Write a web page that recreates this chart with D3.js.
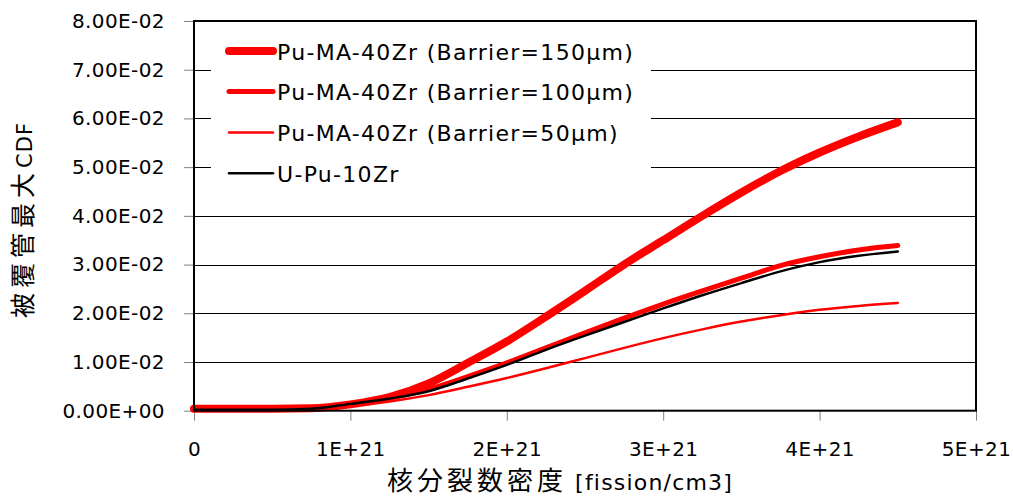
<!DOCTYPE html>
<html>
<head>
<meta charset="utf-8">
<script src="https://cdn.jsdelivr.net/npm/d3@7"></script>
<style>
  html, body { margin: 0; padding: 0; background: #fff; }
  svg { display: block; }
  text { font-family: "DejaVu Sans", "Noto Sans CJK JP", sans-serif; fill: #000; }
  .cjk { font-family: "Noto Sans CJK JP", sans-serif; }
</style>
</head>
<body>
<svg id="chart" width="1013" height="500"></svg>
<script>
// Fission density (fissions/cm3) at which the cladding CDF is sampled
const fission = [0, 0.5e21, 0.75e21, 1.0e21, 1.25e21, 1.5e21, 1.75e21, 2.0e21, 2.25e21,
                 2.5e21, 2.75e21, 3.0e21, 3.25e21, 3.5e21, 3.75e21, 4.0e21, 4.25e21, 4.5e21];

// Maximum cladding CDF for each fuel / barrier case
const cdfBarrier150 = [0.0004, 0.0004, 0.0005, 0.0013, 0.0028, 0.0056, 0.0098, 0.0142, 0.0193,
                       0.0246, 0.0300, 0.0350, 0.0400, 0.0448, 0.0492, 0.0530, 0.0563, 0.0592];
const cdfBarrier100 = [0.0004, 0.0004, 0.0005, 0.0013, 0.0026, 0.0044, 0.0070, 0.0098, 0.0129,
                       0.0160, 0.0190, 0.0219, 0.0246, 0.0272, 0.0298, 0.0316, 0.0330, 0.0339];
const cdfBarrier50  = [0.0003, 0.0002, 0.0003, 0.0010, 0.0019, 0.0032, 0.0049, 0.0067, 0.0087,
                       0.0108, 0.0129, 0.0149, 0.0167, 0.0183, 0.0196, 0.0207, 0.0215, 0.0221];
const cdfUPu10Zr    = [0.0002, 0.0002, 0.0004, 0.0014, 0.0025, 0.0040, 0.0066, 0.0094, 0.0125,
                       0.0154, 0.0182, 0.0210, 0.0237, 0.0262, 0.0286, 0.0305, 0.0318, 0.0327];

const seriesNames = ["Pu-MA-40Zr (Barrier=150μm)", "Pu-MA-40Zr (Barrier=100μm)",
                     "Pu-MA-40Zr (Barrier=50μm)", "U-Pu-10Zr"];

// Axis ticks and their labels
const xTickValues = [0, 1e21, 2e21, 3e21, 4e21, 5e21];
const xTickLabels = ["0", "1E+21", "2E+21", "3E+21", "4E+21", "5E+21"];
const yTickValues = [0, 0.01, 0.02, 0.03, 0.04, 0.05, 0.06, 0.07, 0.08];
const yTickLabels = ["0.00E+00", "1.00E-02", "2.00E-02", "3.00E-02", "4.00E-02",
                     "5.00E-02", "6.00E-02", "7.00E-02", "8.00E-02"];

const xLabelJa = "核分裂数密度";
const xLabelUnit = " [fission/cm3]";
const yLabelJa = "被覆管最大";
const yLabelEn = "CDF";

// Line styles per series
const styles = [
  { color: "#ff0000", width: 8 },
  { color: "#ff0000", width: 5 },
  { color: "#ff0000", width: 2.5 },
  { color: "#000000", width: 2.5 }
];

const svg = d3.select("#chart");
const plot = { left: 194, right: 976, top: 21, bottom: 410.7 };

const x = d3.scaleLinear().domain([0, 5e21]).range([plot.left, plot.right]);
const y = d3.scaleLinear().domain([0, 0.08]).range([plot.bottom, plot.top]);

// Horizontal gridlines
svg.append("g")
  .selectAll("line")
  .data(yTickValues.slice(1, -1))
  .join("line")
  .attr("x1", plot.left).attr("x2", plot.right)
  .attr("y1", d => Math.round(y(d)) + 0.5).attr("y2", d => Math.round(y(d)) + 0.5)
  .attr("stroke", "#000").attr("stroke-width", 1);

// Axes
const yAxis = svg.append("g")
  .attr("transform", `translate(${plot.left},0)`)
  .call(d3.axisLeft(y).tickValues(yTickValues)
    .tickFormat((d, i) => yTickLabels[i]).tickSize(10).tickPadding(19));
yAxis.select(".domain").remove();
yAxis.selectAll(".tick line").attr("stroke", "#808080");
yAxis.selectAll(".tick text")
  .attr("font-size", 20).attr("letter-spacing", 0.4)
  .style("font-family", "DejaVu Sans").attr("fill", "#000");

const xAxis = svg.append("g")
  .attr("transform", `translate(0,${plot.bottom})`)
  .call(d3.axisBottom(x).tickValues(xTickValues)
    .tickFormat((d, i) => xTickLabels[i]).tickSize(10).tickPadding(21));
xAxis.select(".domain").remove();
xAxis.selectAll(".tick line").attr("stroke", "#808080");
xAxis.selectAll(".tick text")
  .attr("font-size", 20).attr("letter-spacing", 0.4)
  .style("font-family", "DejaVu Sans").attr("fill", "#000");

// Legend background
const legend = { x: 211, y: 28, w: 440, h: 172 };
svg.append("rect")
  .attr("x", legend.x).attr("y", legend.y)
  .attr("width", legend.w).attr("height", legend.h)
  .attr("fill", "#fff");

// Curves
const allSeries = [cdfBarrier150, cdfBarrier100, cdfBarrier50, cdfUPu10Zr];
const line = d3.line()
  .x((d, i) => x(fission[i]))
  .y(d => y(d))
  .curve(d3.curveMonotoneX);

svg.append("g")
  .selectAll("path")
  .data(allSeries)
  .join("path")
  .attr("d", d => line(d))
  .attr("fill", "none")
  .attr("stroke", (d, i) => styles[i].color)
  .attr("stroke-width", (d, i) => styles[i].width)
  .attr("stroke-linecap", "round")
  .attr("stroke-linejoin", "round");

// Legend entries
const legendRowY = [51, 91.5, 132.5, 173.3];
const lg = svg.append("g");
seriesNames.forEach((name, i) => {
  lg.append("line")
    .attr("x1", 229).attr("x2", 273)
    .attr("y1", legendRowY[i]).attr("y2", legendRowY[i])
    .attr("stroke", styles[i].color)
    .attr("stroke-width", styles[i].width)
    .attr("stroke-linecap", "round");
  lg.append("text")
    .attr("x", 277).attr("y", legendRowY[i] + 8.5)
    .attr("font-size", 22).attr("letter-spacing", 1.3)
    .text(name);
});

// Plot frame
svg.append("rect")
  .attr("x", plot.left).attr("y", plot.top)
  .attr("width", plot.right - plot.left).attr("height", plot.bottom - plot.top)
  .attr("fill", "none").attr("stroke", "#000").attr("stroke-width", 2);

// Axis titles
const xt = svg.append("text")
  .attr("x", 560).attr("y", 490)
  .attr("text-anchor", "middle");
xt.append("tspan").attr("class", "cjk").attr("font-size", 26).attr("letter-spacing", 4).text(xLabelJa);
xt.append("tspan").attr("font-size", 22).attr("letter-spacing", 1.2).text(xLabelUnit);

const yt = svg.append("text")
  .attr("transform", "translate(32,220) rotate(-90)")
  .attr("text-anchor", "middle");
yt.append("tspan").attr("class", "cjk").attr("font-size", 25).attr("letter-spacing", 5).text(yLabelJa);
yt.append("tspan").attr("font-size", 21).attr("letter-spacing", 1).text(yLabelEn);
</script>
</body>
</html>
